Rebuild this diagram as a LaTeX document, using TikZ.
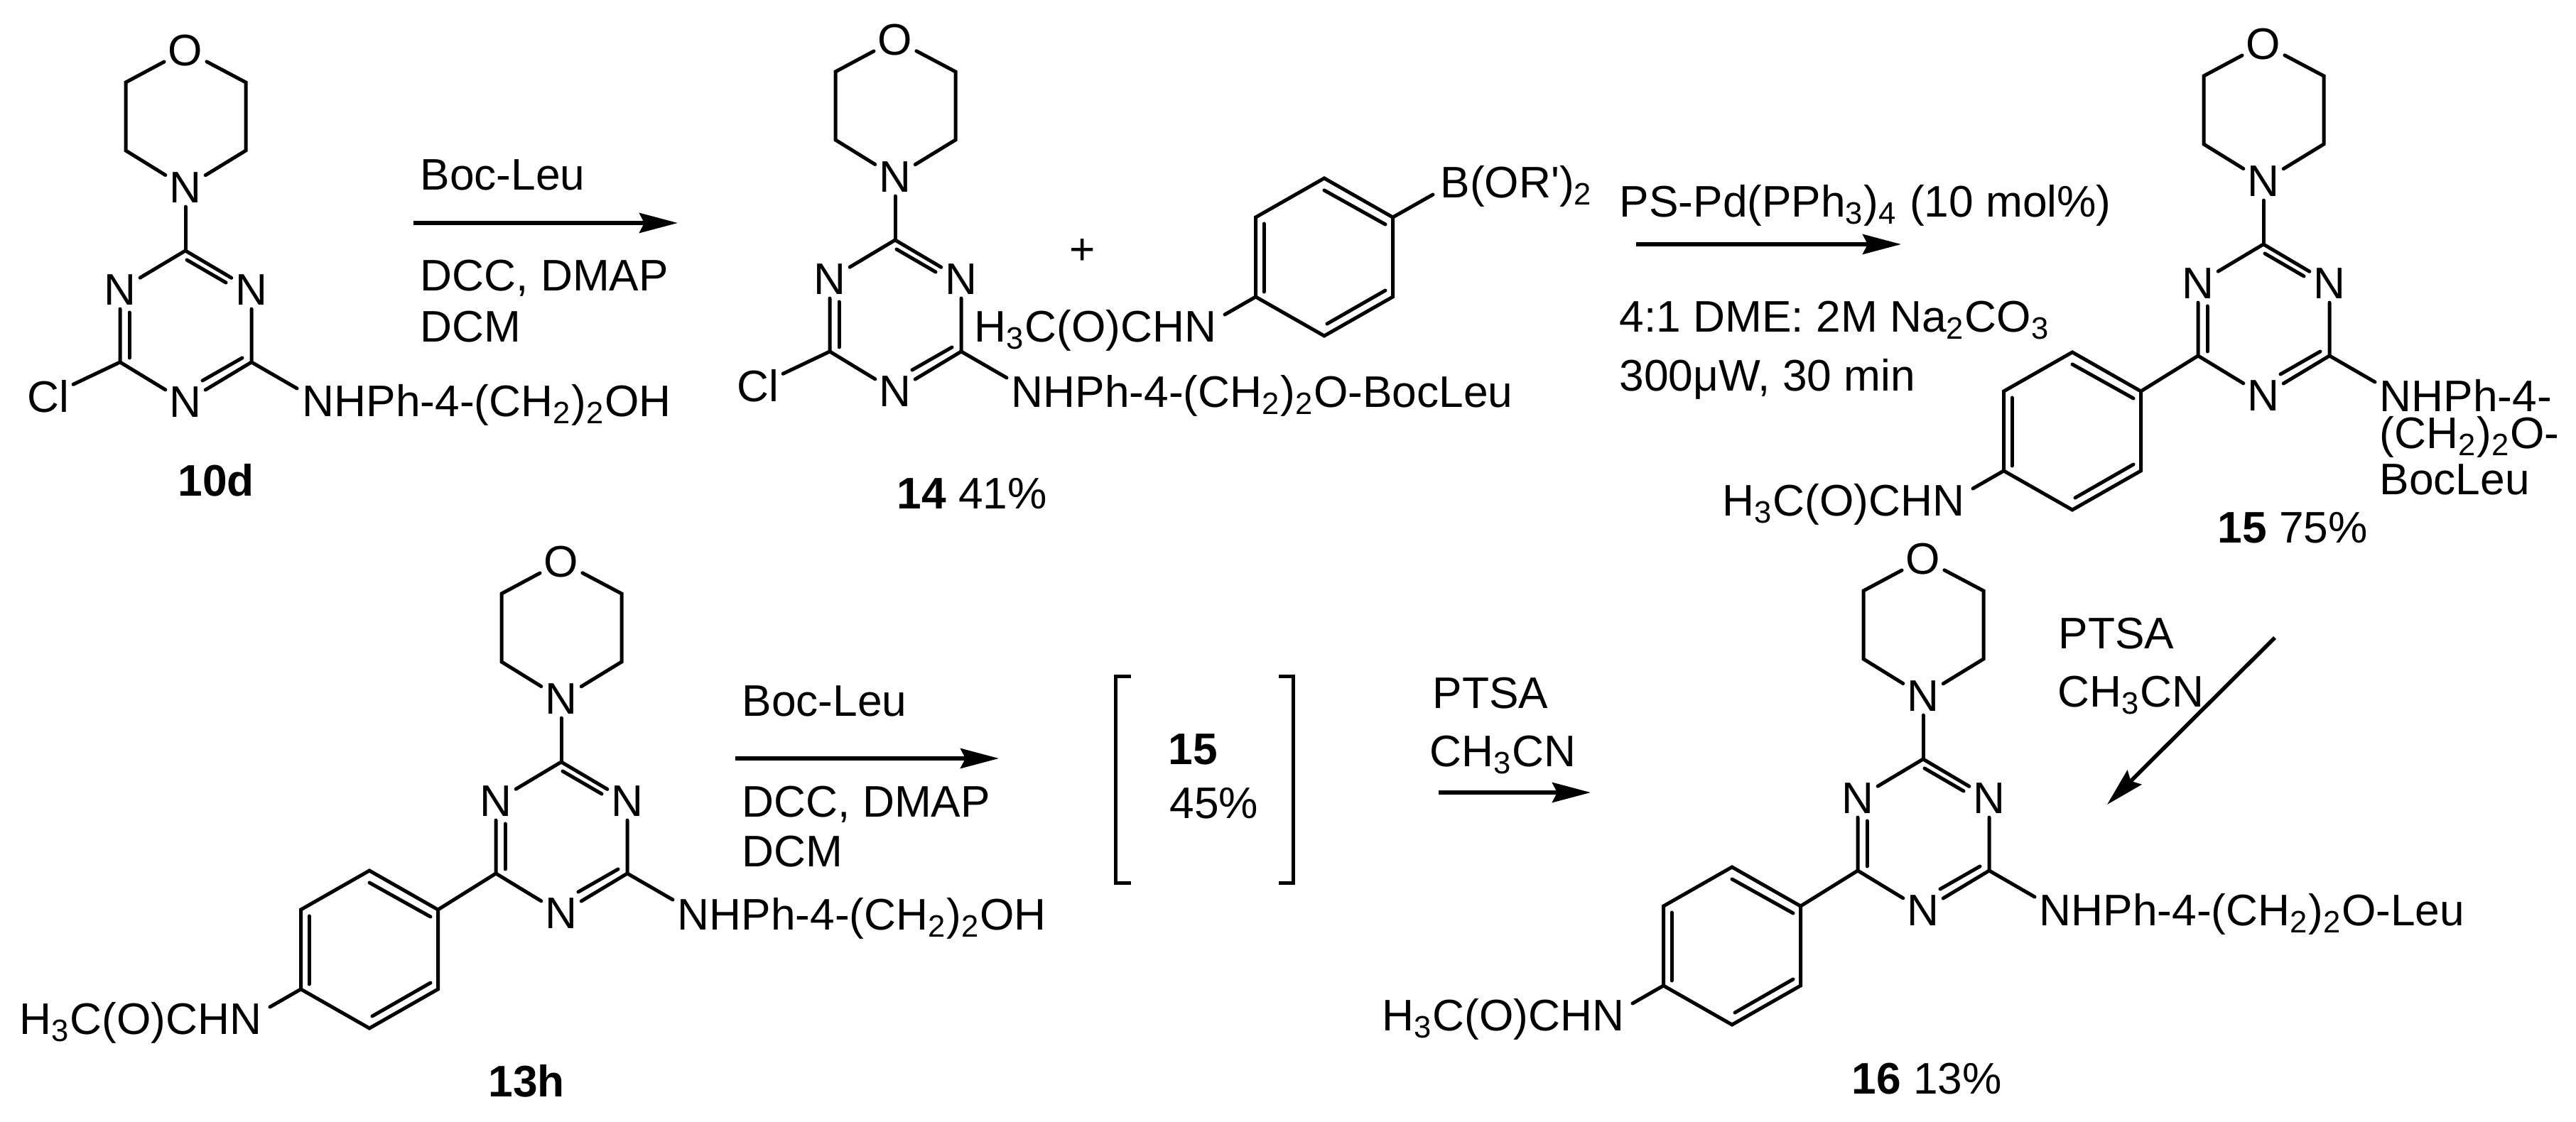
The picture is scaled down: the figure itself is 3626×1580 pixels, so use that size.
\documentclass[tikz,border=0pt]{standalone}
\usepackage{fontspec}
\setmainfont{Liberation Sans}
\newfontfamily\rawfont{Liberation Sans}
\usetikzlibrary{arrows.meta,calc,positioning}
\tikzset{%
	atom/.style  = {font=\fontsize{17.7}{20}\selectfont, inner sep=.05cm}, % Ring atom
	chem/.style  = {font=\fontsize{17.7}{20}\selectfont, inner sep=0pt, anchor=base west}, % Text
	bond/.style  = {line width=.05cm, line cap=round},
	arrow/.style = {line width=.055cm, -{Stealth[length=.54cm,width=.28cm,inset=.07cm]}},
}
\tikzset{%
	coreunit/.pic = {
		\node[atom] (-O) at (261,71) {O};
		\node[atom] (-N) at (261,264) {N};
		\node[atom] (-NL) at (169,408) {N};
		\node[atom] (-NR) at (354,408) {N};
		\node[atom] (-NB) at (261,566) {N};
		\coordinate (-ml) at (177,116);
		\coordinate (-mr) at (346,116);
		\coordinate (-nl) at (177,212);
		\coordinate (-nr) at (346,212);
		\coordinate (-T) at (261,353);
		\coordinate (-LL) at (169,510);
		\coordinate (-LR) at (354,510);
		\coordinate (-nh) at (418,547);
		\coordinate (-da) at (263,366);
		\coordinate (-db) at (318,398);
		\coordinate (-dc) at (182,440);
		\coordinate (-dd) at (182,504);
		\coordinate (-de) at (341,504);
		\coordinate (-df) at (285,536);
		\draw[bond] (-O) -- (-ml) -- (-nl) -- (-N);
		\draw[bond] (-O) -- (-mr) -- (-nr) -- (-N);
		\draw[bond] (-N) -- (-T);
		\draw[bond] (-NL) -- (-T) -- (-NR);
		\draw[bond] (-NL) -- (-LL) -- (-NB);
		\draw[bond] (-NR) -- (-LR) -- (-NB);
		\draw[bond] (-LR) -- (-nh);
		\draw[bond] (-da) -- (-db);
		\draw[bond] (-dc) -- (-dd);
		\draw[bond] (-de) -- (-df);
	},
	arylunit/.pic = {
		\coordinate (-t) at (0,0);
		\coordinate (-ur) at (96.5,55);
		\coordinate (-lr) at (96.5,167);
		\coordinate (-b) at (0,222);
		\coordinate (-ll) at (-96.5,167);
		\coordinate (-ul) at (-96.5,55);
		\coordinate (-nh) at (-140,192);
		\coordinate (-da) at (0,17);
		\coordinate (-db) at (86,65);
		\coordinate (-dc) at (-85,64);
		\coordinate (-dd) at (-85,160);
		\coordinate (-de) at (86,158);
		\coordinate (-df) at (4,205);
		\node[chem,anchor=base east] (-amide) at (-151,231) {H\textsubscript{3}C(O)CHN};
		\draw[bond] (-t) -- (-ur) -- (-lr) -- (-b) -- (-ll) -- (-ul) -- cycle;
		\draw[bond] (-ll) -- (-nh);
		\draw[bond] (-da) -- (-db);
		\draw[bond] (-dc) -- (-dd);
		\draw[bond] (-de) -- (-df);
	},
}

\begin{document}
\begin{tikzpicture}[x=.01cm,y=-.01cm]
	\useasboundingbox (0,0) rectangle (3626,1580);
	% top row
	\pic (tend) at (0,0) {coreunit};
	\node[atom] (tendCl) at (68,558) {Cl};
	\draw[bond] (tend-LL) -- (tendCl);
	\node[chem] (tendR) at (425,587) {NHPh-4-(CH\textsubscript{2})\textsubscript{2}OH};
	\node[chem] (tendName) at (250,699) {\bfseries 10d};
	\node[chem] (bocA) at (591,268) {Boc-Leu};
	\coordinate (arrAs) at (582,314);
	\coordinate (arrAe) at (954,314);
	\draw[arrow] (arrAs) -- (arrAe);
	\node[chem] (dccA) at (591,410) {DCC, DMAP};
	\node[chem] (dcmA) at (591,482) {DCM};

	\pic (four) at (999,-15) {coreunit};
	\node[atom] (fourCl) at (1067,543) {Cl};
	\draw[bond] (four-LL) -- (fourCl);
	\node[chem] (fourR) at (1423,574) {NHPh-4-(CH\textsubscript{2})\textsubscript{2}O-BocLeu};
	\node[chem] (fourName) at (1262,717) {\bfseries 14\mdseries{} 41\%};
	\node[chem,anchor=center] (plus) at (1524,355) {+};
	\pic (boro) at (1864,251) {arylunit};
	\node[chem] (boroB) at (2027,279) {B(OR{\rawfont '})\textsubscript{2}};
	\coordinate (boroE) at (2017,274);
	\draw[bond] (boro-ur) -- (boroE);

	\node[chem] (pdcat) at (2279,306) {PS-Pd(PPh\textsubscript{3})\textsubscript{4} (10 mol\%)};
	\coordinate (arrBs) at (2303,344);
	\coordinate (arrBe) at (2676,344);
	\draw[arrow] (arrBs) -- (arrBe);
	\node[chem] (dme) at (2279,468) {4:1 DME: 2M Na\textsubscript{2}CO\textsubscript{3}};
	\node[chem] (micro) at (2279,551) {300μW, 30 min};

	\pic (fift) at (2925,-9) {coreunit};
	\pic (fiftA) at (2917,496) {arylunit};
	\draw[bond] (fift-LL) -- (fiftA-ur);
	\node[chem] (fiftR) at (3349,580) {NHPh-4-};
	\node[chem] (fiftS) at (3349,632) {(CH\textsubscript{2})\textsubscript{2}O-};
	\node[chem] (fiftT) at (3349,697) {BocLeu};
	\node[chem] (fiftName) at (3121,765) {\bfseries 15\mdseries{} 75\%};

	% bottom row
	\pic (thir) at (529,720) {coreunit};
	\pic (thirA) at (520,1226) {arylunit};
	\draw[bond] (thir-LL) -- (thirA-ur);
	\node[chem] (thirR) at (953,1310) {NHPh-4-(CH\textsubscript{2})\textsubscript{2}OH};
	\node[chem] (thirName) at (687,1545) {\bfseries 13h};
	\node[chem] (bocB) at (1044,1009) {Boc-Leu};
	\coordinate (arrCs) at (1035,1068);
	\coordinate (arrCe) at (1406,1068);
	\draw[arrow] (arrCs) -- (arrCe);
	\node[chem] (dccB) at (1044,1151) {DCC, DMAP};
	\node[chem] (dcmB) at (1044,1221) {DCM};

	\draw[bond,line cap=butt] (1592,953) -- (1570,953) -- (1570,1244) -- (1592,1244);
	\draw[bond,line cap=butt] (1800,953) -- (1820,953) -- (1820,1244) -- (1800,1244);
	\node[chem] (brName) at (1644,1077) {\bfseries 15};
	\node[chem] (brYield) at (1646,1153) {45\%};

	\node[chem] (ptsaA) at (2016,998) {PTSA};
	\node[chem] (mecnA) at (2012,1080) {CH\textsubscript{3}CN};
	\coordinate (arrDs) at (2025,1116);
	\coordinate (arrDe) at (2239,1116);
	\draw[arrow] (arrDs) -- (arrDe);

	\pic (sixt) at (2446,716) {coreunit};
	\pic (sixtA) at (2438,1221) {arylunit};
	\draw[bond] (sixt-LL) -- (sixtA-ur);
	\node[chem] (sixtR) at (2870,1304) {NHPh-4-(CH\textsubscript{2})\textsubscript{2}O-Leu};
	\node[chem] (sixtName) at (2606,1541) {\bfseries 16\mdseries{} 13\%};

	\node[chem] (ptsaB) at (2897,914) {PTSA};
	\node[chem] (mecnB) at (2896,996) {CH\textsubscript{3}CN};
	\coordinate (arrEs) at (3202,898);
	\coordinate (arrEe) at (2966,1133);
	\draw[arrow] (arrEs) -- (arrEe);
\end{tikzpicture}
\end{document}
